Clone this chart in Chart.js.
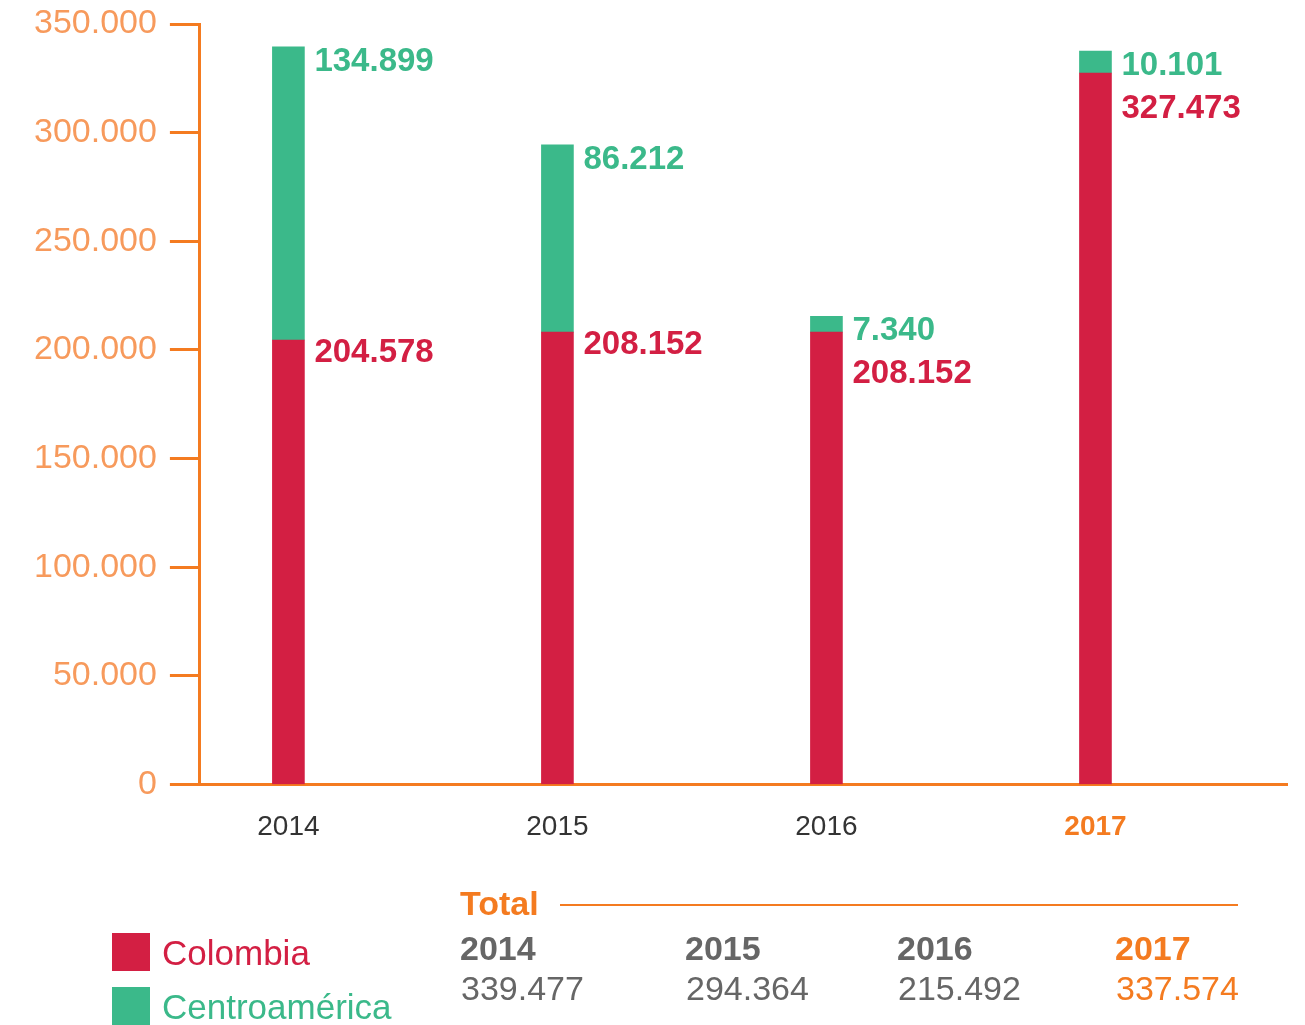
<!DOCTYPE html>
<html lang="es">
<head>
<meta charset="utf-8">
<title>Colombia y Centroamérica 2014-2017</title>
<script src="https://cdn.jsdelivr.net/npm/chart.js@4.4.1/dist/chart.umd.min.js"></script>
<style>
  html, body { margin: 0; padding: 0; background: #fff; }
  body { width: 1305px; height: 1025px; position: relative; overflow: hidden;
         font-family: "Liberation Sans", Arial, Helvetica, sans-serif; }
  #chart { position: absolute; left: 0; top: 0; }
  .txt { position: absolute; white-space: nowrap; }
  .swatch { position: absolute; width: 38px; height: 38px; }
  .rule { position: absolute; height: 2px; background: #f47b20; }
</style>
</head>
<body>
<canvas id="chart" width="1305" height="1025"></canvas>
<div id="legend"></div>
<div id="totals"></div>

<script>
// Series and axis values
const years = ['2014', '2015', '2016', '2017'];
const colombia = [204578, 208152, 208152, 327473];
const centroamerica = [134899, 86212, 7340, 10101];
const yTicks = [0, 50000, 100000, 150000, 200000, 250000, 300000, 350000];

const RED = '#d31f43';
const GREEN = '#3bb98a';
const ORANGE = '#f47b20';
const ORANGE_LIGHT = '#f79a5c';
const GRAY = '#666666';
const FONT = '"Liberation Sans", Arial, Helvetica, sans-serif';

Chart.defaults.font.family = FONT;

// 339477 -> "339.477"
function fmt(n) {
  return String(n).replace(/\B(?=(\d{3})+(?!\d))/g, '.');
}

// value labels to the right of each stack
const barLabels = {
  id: 'barLabels',
  afterDatasetsDraw(chart) {
    const ctx = chart.ctx;
    const red = chart.getDatasetMeta(0).data;
    const green = chart.getDatasetMeta(1).data;
    const cap = 24;
    ctx.save();
    ctx.font = 'bold 33px ' + FONT;
    ctx.textAlign = 'left';
    ctx.textBaseline = 'alphabetic';
    years.forEach((y, i) => {
      const g = green[i];
      const r = red[i];
      const x = g.x + g.width / 2 + 10;
      ctx.fillStyle = GREEN;
      ctx.fillText(fmt(centroamerica[i]), x, g.y + cap);
      ctx.fillStyle = RED;
      const top = Math.max(r.y - 2, g.y + 43);
      ctx.fillText(fmt(colombia[i]), x, top + cap);
    });
    ctx.restore();
  }
};

const chart = new Chart(document.getElementById('chart'), {
  type: 'bar',
  data: {
    datasets: [
      {
        label: 'Colombia',
        data: colombia.map((v, i) => ({ x: i, y: v })),
        backgroundColor: RED,
        barThickness: 32
      },
      {
        label: 'Centroamérica',
        data: centroamerica.map((v, i) => ({ x: i, y: v })),
        backgroundColor: GREEN,
        barThickness: 32
      }
    ]
  },
  options: {
    responsive: false,
    animation: false,
    devicePixelRatio: 1,
    layout: { padding: { left: 21, top: 10, right: 18, bottom: 155 } },
    plugins: {
      legend: { display: false },
      tooltip: { enabled: false }
    },
    scales: {
      x: {
        type: 'linear',
        offset: false,
        min: -0.329,
        max: 3.712,
        stacked: true,
        afterBuildTicks: (scale) => {
          scale.ticks = years.map((_, i) => ({ value: i }));
        },
        ticks: {
          autoSkip: false,
          maxRotation: 0,
          padding: 26,
          callback: (v) => years[v],
          color: (c) => (c.index === 3 ? ORANGE : '#333333'),
          font: (c) => ({ size: 28, weight: c.index === 3 ? 'bold' : 'normal' })
        },
        grid: { display: false, drawTicks: false },
        border: { color: ORANGE, width: 3 }
      },
      y: {
        min: 0,
        max: 350000,
        stacked: true,
        afterBuildTicks: (scale) => {
          scale.ticks = yTicks.map((v) => ({ value: v }));
        },
        ticks: {
          padding: 13,
          color: ORANGE_LIGHT,
          font: { size: 34, lineHeight: 0.65 },
          callback: (v) => fmt(v)
        },
        grid: {
          drawOnChartArea: false,
          drawTicks: true,
          tickLength: 30,
          tickColor: ORANGE,
          tickWidth: 3
        },
        border: { color: ORANGE, width: 3 }
      }
    }
  },
  plugins: [barLabels]
});

// legend and totals below the chart
function addText(parent, text, x, cy, size, color, weight) {
  const el = document.createElement('div');
  el.className = 'txt';
  el.textContent = text;
  el.style.left = x + 'px';
  el.style.top = (cy - size / 2) + 'px';
  el.style.fontSize = size + 'px';
  el.style.lineHeight = size + 'px';
  el.style.color = color;
  el.style.fontWeight = weight || 'normal';
  parent.appendChild(el);
}

const legend = document.getElementById('legend');
[['Colombia', RED, 933], ['Centroamérica', GREEN, 987]].forEach(([name, color, top]) => {
  const sw = document.createElement('div');
  sw.className = 'swatch';
  sw.style.left = '112px';
  sw.style.top = top + 'px';
  sw.style.background = color;
  legend.appendChild(sw);
  addText(legend, name, 162, top + 19, 35, color);
});

const totals = document.getElementById('totals');
addText(totals, 'Total', 460, 903, 34, ORANGE, 'bold');
const rule = document.createElement('div');
rule.className = 'rule';
rule.style.left = '560px';
rule.style.top = '904px';
rule.style.width = '678px';
totals.appendChild(rule);

const colX = [460, 685, 897, 1115];
years.forEach((y, i) => {
  const color = i === years.length - 1 ? ORANGE : GRAY;
  addText(totals, y, colX[i], 948, 34, color, 'bold');
  addText(totals, fmt(colombia[i] + centroamerica[i]), colX[i] + 1, 988, 34, color);
});
</script>
</body>
</html>
